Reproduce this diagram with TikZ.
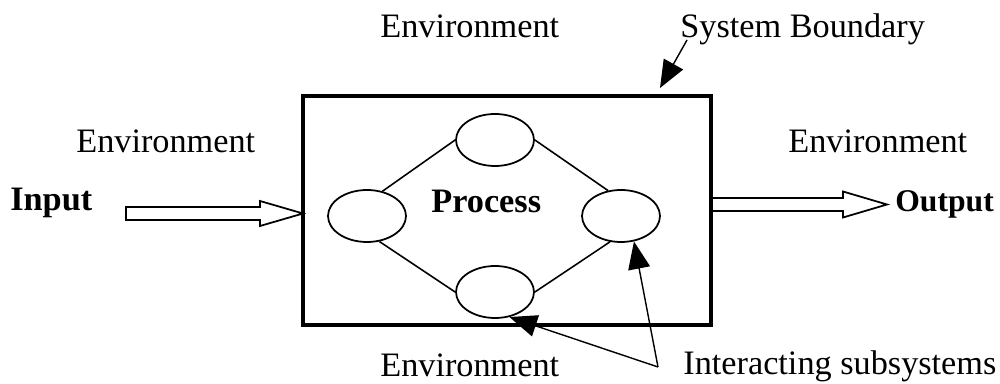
\documentclass[tikz,border=0pt]{standalone}
\usepackage{fontspec}
\setmainfont{Liberation Serif}
\usetikzlibrary{arrows.meta,shapes.geometric}

\begin{document}
\begin{tikzpicture}[x=0.02cm, y=-0.02cm,
	lbl/.style={anchor=base west, inner sep=0pt, font=\fontsize{19.5}{23}\selectfont},
	boldlbl/.style={lbl, font=\fontsize{19.5}{23}\selectfont\bfseries},
	sub/.style={draw, ellipse, line width=1pt, minimum width=1.56cm, minimum height=1.04cm, inner sep=0pt},
	link/.style={line width=0.9pt},
	hollow/.style={line width=1pt, line join=miter},
	pointer/.style={line width=0.8pt, -{Triangle[length=0.55cm, width=0.44cm]}}]

	\useasboundingbox (0,0) rectangle (1000,384);

	% ---- system boundary

	\node[draw, line width=2.4pt, minimum width=8.16cm, minimum height=4.58cm, inner sep=0pt] (sys) at (507,210.5) {};

	% ---- subsystems

	\node[sub] (subN) at (495,140) {};
	\node[sub] (subW) at (367,216) {};
	\node[sub] (subE) at (621,216) {};
	\node[sub] (subS) at (495,292) {};

	\draw[link] (subW.58) -- (subN.west);
	\draw[link] (subN.east) -- (subE.117);
	\draw[link] (subW.-64) -- (subS.west);
	\draw[link] (subS.east) -- (subE.-113);

	% ---- labels

	\node[lbl] (envN) at (380,38) {Environment};
	\node[lbl] (envW) at (76,153) {Environment};
	\node[lbl] (envE) at (788,153) {Environment};
	\node[lbl] (envS) at (380,377) {Environment};

	\node[boldlbl] (in) at (10,211) {Input};
	\node[boldlbl, font=\fontsize{18}{22}\selectfont\bfseries] (out) at (895,212) {Output};
	\node[boldlbl] (proc) at (431,213) {Process};

	\node[lbl] (bnd) at (680,38) {System Boundary};
	\node[lbl] (inter) at (683,375) {Interacting subsystems};

	% ---- input / output arrows

	\coordinate (inTail) at (126,213.5);
	\coordinate (outTail) at (711,204.5);

	\draw[hollow] (inTail) -- ++(0,-6.5) -- ++(134,0) -- ++(0,-6) -- ++(43,12.5)
		-- ++(-43,12.5) -- ++(0,-6) -- ++(-134,0) -- cycle;

	\draw[hollow] (outTail) ++(0,-6.5) -- ++(132,0) -- ++(0,-6.5) -- ++(44,13)
		-- ++(-44,13) -- ++(0,-6.5) -- ++(-132,0);

	% ---- pointers

	\coordinate (bndTail) at (687,40);
	\coordinate (bndTip) at (660,88);
	\coordinate (interTail) at (658,367);

	\draw[pointer] (bndTail) -- (bndTip);
	\draw[pointer] (interTail) -- (subE.-63);
	\draw[pointer] (interTail) -- (subS.-60);

\end{tikzpicture}
\end{document}
